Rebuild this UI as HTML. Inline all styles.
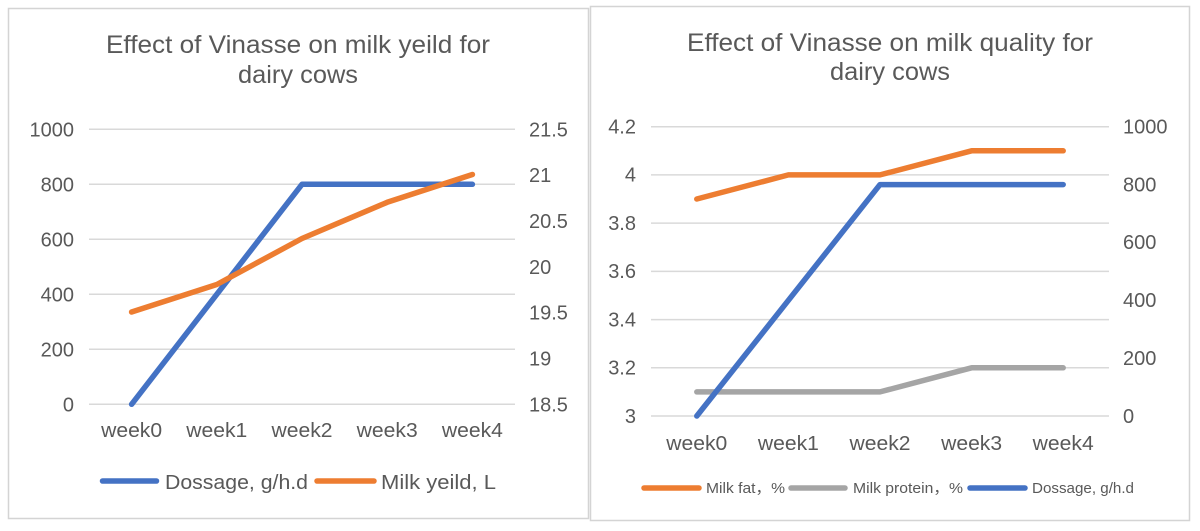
<!DOCTYPE html>
<html>
<head>
<meta charset="utf-8">
<style>
  html, body { margin:0; padding:0; background:#ffffff; }
  body { width:1200px; height:531px; overflow:hidden; }
  svg { display:block; }
  text { font-family: "Liberation Sans", "Noto Sans CJK SC", sans-serif; fill:#595959; }
</style>
</head>
<body>
<svg width="1200" height="531" viewBox="0 0 1200 531" xmlns="http://www.w3.org/2000/svg">
  <rect x="0" y="0" width="1200" height="531" fill="#ffffff"/>

  <!-- ================= LEFT CHART ================= -->
  <rect x="8.5" y="8.5" width="580" height="510" fill="#ffffff" stroke="#d4d4d4" stroke-width="1.5"/>

  <text x="298" y="53" font-size="25" text-anchor="middle" textLength="384" lengthAdjust="spacingAndGlyphs">Effect of Vinasse on milk yeild for</text>
  <text x="298" y="83" font-size="25" text-anchor="middle" textLength="120" lengthAdjust="spacingAndGlyphs">dairy cows</text>

  <!-- gridlines -->
  <g stroke="#d9d9d9" stroke-width="1.5">
    <line x1="89" y1="129.3" x2="515" y2="129.3"/>
    <line x1="89" y1="184.3" x2="515" y2="184.3"/>
    <line x1="89" y1="239.3" x2="515" y2="239.3"/>
    <line x1="89" y1="294.3" x2="515" y2="294.3"/>
    <line x1="89" y1="349.3" x2="515" y2="349.3"/>
    <line x1="89" y1="404.3" x2="515" y2="404.3"/>
  </g>

  <!-- left axis labels -->
  <g font-size="20" text-anchor="end">
    <text x="74" y="136.3">1000</text>
    <text x="74" y="191.3">800</text>
    <text x="74" y="246.3">600</text>
    <text x="74" y="301.3">400</text>
    <text x="74" y="356.3">200</text>
    <text x="74" y="411.3">0</text>
  </g>
  <!-- right axis labels -->
  <g font-size="20" text-anchor="start">
    <text x="529" y="136.3">21.5</text>
    <text x="529" y="182.1">21</text>
    <text x="529" y="228.0">20.5</text>
    <text x="529" y="273.8">20</text>
    <text x="529" y="319.6">19.5</text>
    <text x="529" y="365.5">19</text>
    <text x="529" y="411.3">18.5</text>
  </g>

  <!-- category labels -->
  <g font-size="20" text-anchor="middle">
    <text x="131.6" y="437" textLength="61" lengthAdjust="spacingAndGlyphs">week0</text>
    <text x="216.8" y="437" textLength="61" lengthAdjust="spacingAndGlyphs">week1</text>
    <text x="302" y="437" textLength="61" lengthAdjust="spacingAndGlyphs">week2</text>
    <text x="387.2" y="437" textLength="61" lengthAdjust="spacingAndGlyphs">week3</text>
    <text x="472.4" y="437" textLength="61" lengthAdjust="spacingAndGlyphs">week4</text>
  </g>

  <!-- series -->
  <polyline points="131.6,404.3 216.8,294.3 302,184.3 387.2,184.3 472.4,184.3" fill="none" stroke="#4472C4" stroke-width="5.5" stroke-linecap="round" stroke-linejoin="round"/>
  <polyline points="131.6,312 216.8,284.5 302,238.5 387.2,202.3 472.4,174.5" fill="none" stroke="#ED7D31" stroke-width="5.5" stroke-linecap="round" stroke-linejoin="round"/>

  <!-- legend -->
  <line x1="102.5" y1="481" x2="156.5" y2="481" stroke="#4472C4" stroke-width="5.5" stroke-linecap="round"/>
  <text x="165" y="489" font-size="20" textLength="143" lengthAdjust="spacingAndGlyphs">Dossage, g/h.d</text>
  <line x1="317" y1="481" x2="374" y2="481" stroke="#ED7D31" stroke-width="5.5" stroke-linecap="round"/>
  <text x="381" y="489" font-size="20" textLength="115" lengthAdjust="spacingAndGlyphs">Milk yeild, L</text>

  <!-- ================= RIGHT CHART ================= -->
  <rect x="590.5" y="6.5" width="599" height="514" fill="#ffffff" stroke="#d4d4d4" stroke-width="1.5"/>

  <text x="890" y="51" font-size="25" text-anchor="middle" textLength="406" lengthAdjust="spacingAndGlyphs">Effect of Vinasse on milk quality for</text>
  <text x="890" y="80" font-size="25" text-anchor="middle" textLength="120" lengthAdjust="spacingAndGlyphs">dairy cows</text>

  <!-- gridlines -->
  <g stroke="#d9d9d9" stroke-width="1.5">
    <line x1="651" y1="126.7" x2="1109" y2="126.7"/>
    <line x1="651" y1="174.9" x2="1109" y2="174.9"/>
    <line x1="651" y1="223.1" x2="1109" y2="223.1"/>
    <line x1="651" y1="271.4" x2="1109" y2="271.4"/>
    <line x1="651" y1="319.6" x2="1109" y2="319.6"/>
    <line x1="651" y1="367.8" x2="1109" y2="367.8"/>
    <line x1="651" y1="416" x2="1109" y2="416"/>
  </g>

  <!-- left axis labels -->
  <g font-size="20" text-anchor="end">
    <text x="636" y="133.5">4.2</text>
    <text x="636" y="181.7">4</text>
    <text x="636" y="229.9">3.8</text>
    <text x="636" y="278.2">3.6</text>
    <text x="636" y="326.4">3.4</text>
    <text x="636" y="374.6">3.2</text>
    <text x="636" y="422.8">3</text>
  </g>
  <!-- right axis labels -->
  <g font-size="20" text-anchor="start">
    <text x="1123" y="133.5">1000</text>
    <text x="1123" y="191.4">800</text>
    <text x="1123" y="249.2">600</text>
    <text x="1123" y="307.1">400</text>
    <text x="1123" y="364.9">200</text>
    <text x="1123" y="422.8">0</text>
  </g>

  <!-- category labels -->
  <g font-size="20" text-anchor="middle">
    <text x="696.8" y="450" textLength="61" lengthAdjust="spacingAndGlyphs">week0</text>
    <text x="788.4" y="450" textLength="61" lengthAdjust="spacingAndGlyphs">week1</text>
    <text x="880" y="450" textLength="61" lengthAdjust="spacingAndGlyphs">week2</text>
    <text x="971.6" y="450" textLength="61" lengthAdjust="spacingAndGlyphs">week3</text>
    <text x="1063.2" y="450" textLength="61" lengthAdjust="spacingAndGlyphs">week4</text>
  </g>

  <!-- series -->
  <polyline points="696.8,199 788.4,174.9 880,174.9 971.6,150.8 1063.2,150.8" fill="none" stroke="#ED7D31" stroke-width="5.5" stroke-linecap="round" stroke-linejoin="round"/>
  <polyline points="696.8,391.9 788.4,391.9 880,391.9 971.6,367.8 1063.2,367.8" fill="none" stroke="#A5A5A5" stroke-width="5.5" stroke-linecap="round" stroke-linejoin="round"/>
  <polyline points="696.8,416 788.4,300.3 880,184.6 971.6,184.6 1063.2,184.6" fill="none" stroke="#4472C4" stroke-width="5.5" stroke-linecap="round" stroke-linejoin="round"/>

  <!-- legend -->
  <line x1="644" y1="488" x2="699" y2="488" stroke="#ED7D31" stroke-width="5.5" stroke-linecap="round"/>
  <text x="706" y="493" font-size="15" textLength="79" lengthAdjust="spacingAndGlyphs">Milk fat，%</text>
  <line x1="791" y1="488" x2="845" y2="488" stroke="#A5A5A5" stroke-width="5.5" stroke-linecap="round"/>
  <text x="853" y="493" font-size="15" textLength="110" lengthAdjust="spacingAndGlyphs">Milk protein，%</text>
  <line x1="970" y1="488" x2="1025" y2="488" stroke="#4472C4" stroke-width="5.5" stroke-linecap="round"/>
  <text x="1032" y="493" font-size="15" textLength="102" lengthAdjust="spacingAndGlyphs">Dossage, g/h.d</text>
</svg>
</body>
</html>
